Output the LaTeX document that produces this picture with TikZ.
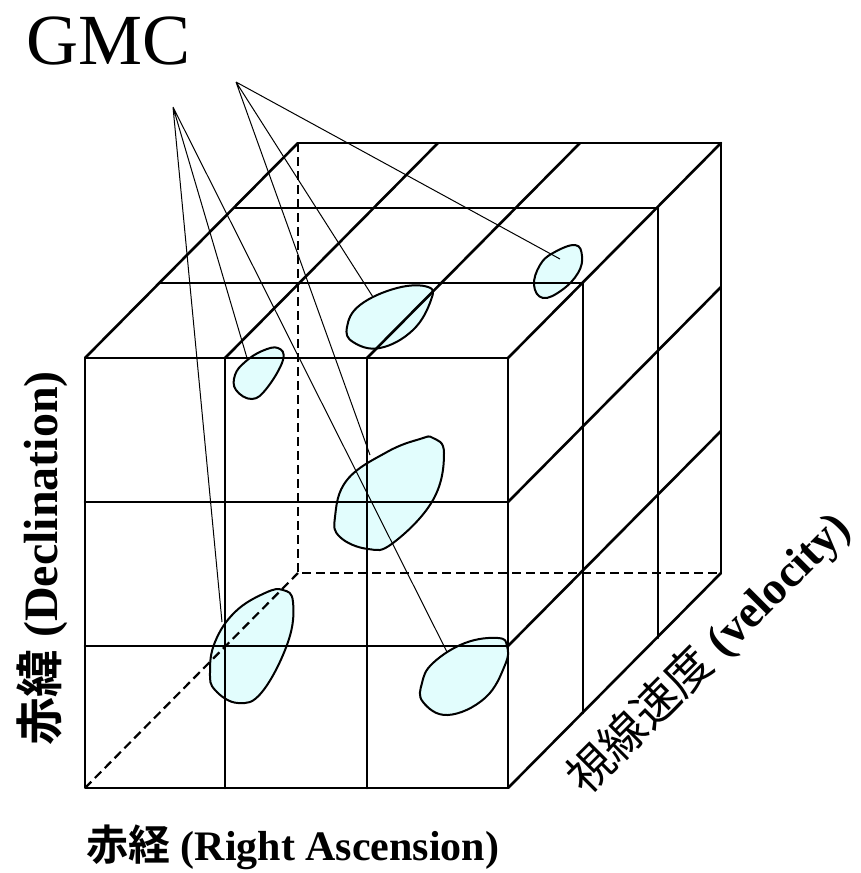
\documentclass[tikz,border=0pt]{standalone}
\usepackage{fontspec}
\setmainfont{Liberation Serif}
\newfontfamily\cjkreg{Noto Sans CJK JP}
\newfontfamily\cjkbold{Noto Sans CJK JP Bold}
\definecolor{cloudfill}{RGB}{226,253,253}
\begin{document}
\begin{tikzpicture}[x=1pt,y=-1pt,
  edge/.style={line width=2.6pt,line cap=round,line join=round},
  hidden/.style={line width=2.2pt,dash pattern=on 9pt off 5pt},
  cloud/.style={fill=cloudfill,draw=black,line width=2pt},
  pointer/.style={line width=1pt},
  label/.style={inner sep=0pt,anchor=base west}]
\useasboundingbox (0,0) rectangle (860,873);

% molecular clouds
\path[cloud] plot[smooth cycle,tension=0.7] coordinates {(575,245) (582,256) (578,273) (562,290) (543,298) (534,285) (540,265) (553,253)};
\path[cloud] plot[smooth cycle,tension=0.7] coordinates {(428,287) (431,300) (413,330) (380,348) (353,342) (347,327) (360,305) (397,288)};
\path[cloud] plot[smooth cycle,tension=0.7] coordinates {(278,348) (283,360) (267,388) (252,399) (236,390) (235,375) (245,362) (262,351)};
\path[cloud] plot[smooth cycle,tension=0.7] coordinates {(433,438) (444,453) (433,500) (393,543) (368,549) (340,537) (335,517) (347,480) (387,452) (420,439)};
\path[cloud] plot[smooth cycle,tension=0.7] coordinates {(283,590) (293,602) (288,642) (262,692) (238,703) (215,690) (210,672) (215,642) (235,612) (265,593)};
\path[cloud] plot[smooth cycle,tension=0.7] coordinates {(498,638) (507,646) (505,665) (485,698) (448,715) (423,702) (422,683) (433,663) (465,643)};

% hidden edges of the data cube
\draw[hidden] (298,143) -- (298,573) -- (721,573);
\draw[hidden] (85,788) -- (298,573);

% front face
\draw[edge] (85,358) rectangle (508,788);
\draw[edge] (225,358) -- (225,788) (367,358) -- (367,788);
\draw[edge] (85,502) -- (508,502) (85,646) -- (508,646);

% top face
\draw[edge] (160,283) -- (583,283) (235,208) -- (658,208) (298,143) -- (721,143);
\foreach \x in {85,225,367,508} \draw[edge] (\x,358) -- ++(213,-215);

% right face
\foreach \y in {502,646,788} \draw[edge] (508,\y) -- ++(213,-215);
\draw[edge] (583,283) -- (583,713) (658,208) -- (658,638) (721,143) -- (721,573);

% label and its pointers
\node[label,font=\fontsize{72}{80}\selectfont] (gmc) at (26,64) {GMC};
\coordinate (apexA) at (173,107);
\coordinate (apexB) at (236,82);
\coordinate (c1) at (560,259);
\coordinate (c2) at (373,297);
\coordinate (c3) at (247,358);
\coordinate (c4) at (370,455);
\coordinate (c5) at (222,622);
\coordinate (c6) at (447,652);
\draw[pointer] (apexA) -- (c3) (apexA) -- (c5) (apexA) -- (c6);
\draw[pointer] (apexB) -- (c1) (apexB) -- (c2) (apexB) -- (c4);

% axis labels
\node[label,font=\fontsize{42}{50}\selectfont] (ra) at (86,860) {{\cjkbold 赤経} \textbf{(Right Ascension)}};
\node[label,rotate=90,font=\fontsize{48}{56}\selectfont] (dec) at (57,746) {{\cjkbold 赤緯} \textbf{(Declination)}};
\node[label,rotate=45,font=\fontsize{46}{54}\selectfont] (vel) at (586,797) {{\cjkreg 視線速度} \textbf{(velocity)}};
\end{tikzpicture}
\end{document}
